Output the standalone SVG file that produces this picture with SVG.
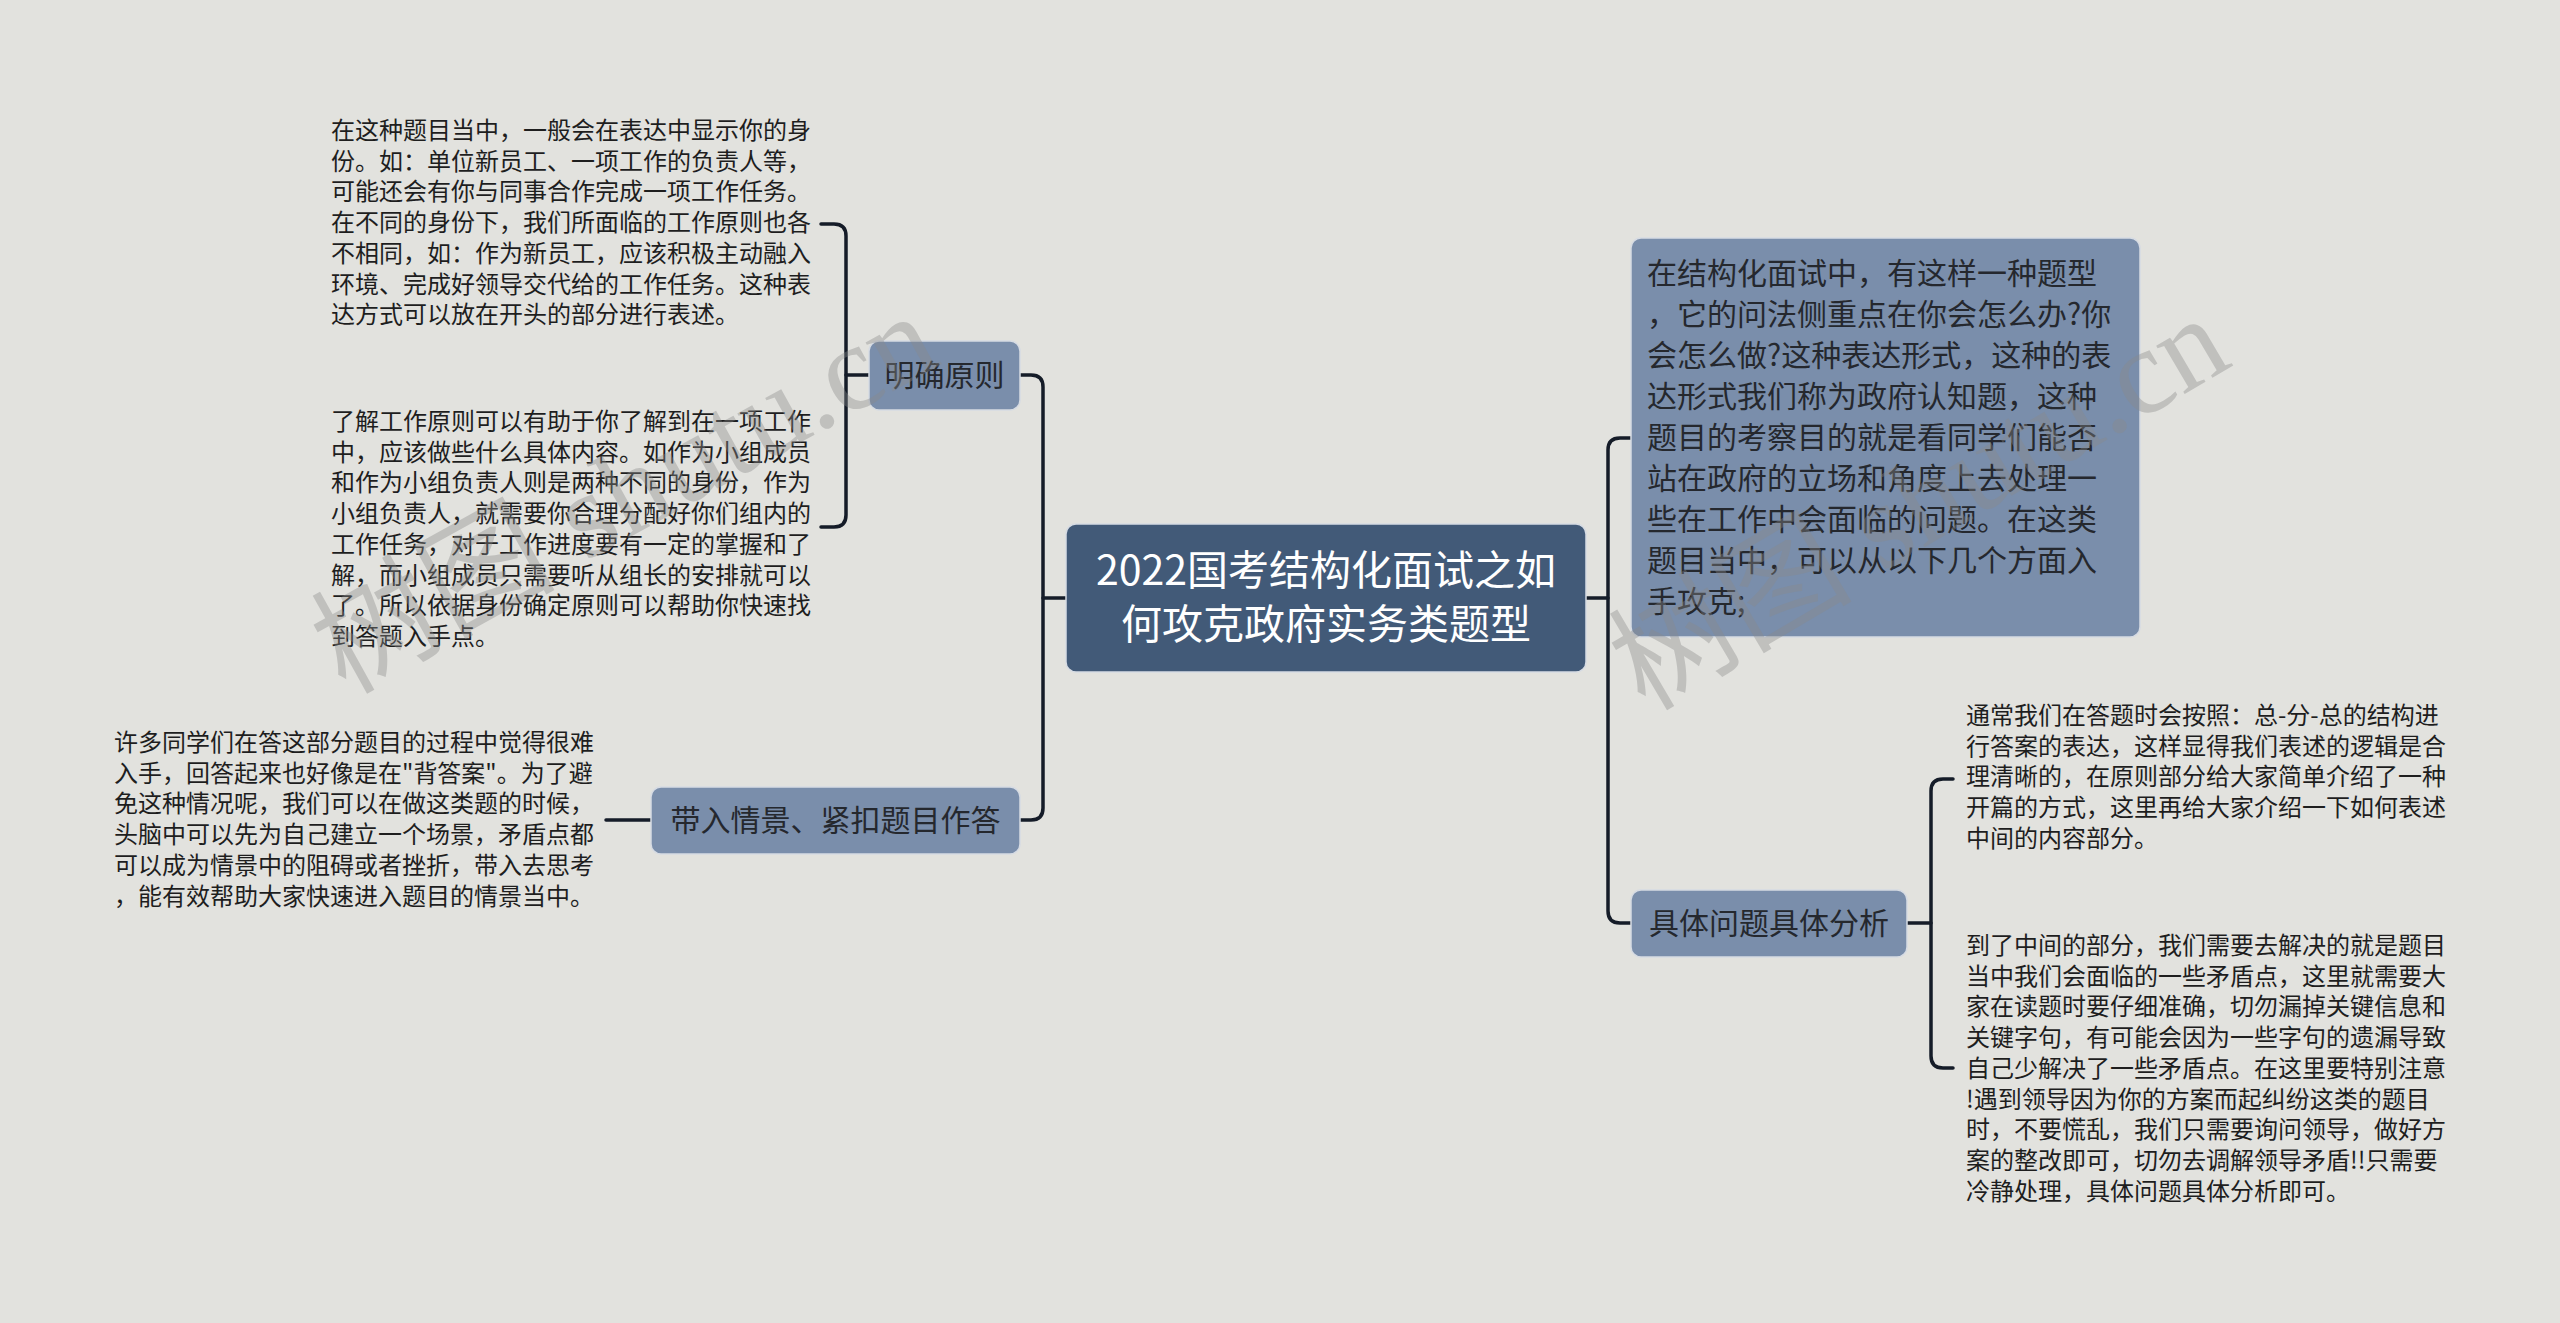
<svg xmlns="http://www.w3.org/2000/svg" width="2560" height="1323" viewBox="0 0 2560 1323">
<style>
.bg{fill:#e2e2de}
.conn{fill:none;stroke:#151c28;stroke-width:3.5;stroke-linecap:round}
.root{fill:#425a78;stroke:#d6dbe3;stroke-width:1.5}
.sub{fill:#7a8eab;stroke:#d6dbe3;stroke-width:1.5}
.t{font-family:"Noto Sans CJK SC","Noto Sans",sans-serif}
.rt{font-size:41px;fill:#ffffff;text-anchor:middle}
.st{font-size:30px;fill:#25282e;text-anchor:middle}
.bt{font-size:30px;fill:#25282e}
.lt{font-size:24px;fill:#1e1e1e}
.wm{font-family:"Liberation Serif","Noto Sans CJK SC",serif;fill:#8a8a8a;opacity:0.38}
</style>
<rect class="bg" x="0" y="0" width="2560" height="1323"/>

<g id="connectors">
  <path class="conn" d="M1066,598 H1043"/>
  <path class="conn" d="M869,375 H1031 Q1043,375 1043,387 V808 Q1043,820 1031,820 H1020"/>
  <path class="conn" d="M869,375 H846"/>
  <path class="conn" d="M821,224 H834 Q846,224 846,236 V515 Q846,527 834,527 H821"/>
  <path class="conn" d="M651,820 H606"/>
  <path class="conn" d="M1586,598 H1608"/>
  <path class="conn" d="M1631,438 H1620 Q1608,438 1608,450 V911 Q1608,923 1620,923 H1631"/>
  <path class="conn" d="M1907,923 H1931"/>
  <path class="conn" d="M1953,779 H1943 Q1931,779 1931,791 V1056 Q1931,1068 1943,1068 H1953"/>
</g>

<g id="root">
  <rect class="root" x="1066" y="524" width="520" height="148" rx="10"/>
  <text class="t rt" x="1326" y="585">2022国考结构化面试之如</text>
  <text class="t rt" x="1326" y="639">何攻克政府实务类题型</text>
</g>

<g id="node-mingque">
  <rect class="sub" x="869" y="341" width="151" height="69" rx="10"/>
  <text class="t st" x="944.5" y="386">明确原则</text>
</g>

<g id="node-mingque-text1">
  <text class="t lt" x="331" y="139">
    <tspan x="331">在这种题目当中，一般会在表达中显示你的身</tspan>
    <tspan x="331" dy="30.7">份。如：单位新员工、一项工作的负责人等，</tspan>
    <tspan x="331" dy="30.7">可能还会有你与同事合作完成一项工作任务。</tspan>
    <tspan x="331" dy="30.7">在不同的身份下，我们所面临的工作原则也各</tspan>
    <tspan x="331" dy="30.7">不相同，如：作为新员工，应该积极主动融入</tspan>
    <tspan x="331" dy="30.7">环境、完成好领导交代给的工作任务。这种表</tspan>
    <tspan x="331" dy="30.7">达方式可以放在开头的部分进行表述。</tspan>
  </text>
</g>

<g id="node-mingque-text2">
  <text class="t lt" x="331" y="430">
    <tspan x="331">了解工作原则可以有助于你了解到在一项工作</tspan>
    <tspan x="331" dy="30.7">中，应该做些什么具体内容。如作为小组成员</tspan>
    <tspan x="331" dy="30.7">和作为小组负责人则是两种不同的身份，作为</tspan>
    <tspan x="331" dy="30.7">小组负责人，就需要你合理分配好你们组内的</tspan>
    <tspan x="331" dy="30.7">工作任务，对于工作进度要有一定的掌握和了</tspan>
    <tspan x="331" dy="30.7">解，而小组成员只需要听从组长的安排就可以</tspan>
    <tspan x="331" dy="30.7">了。所以依据身份确定原则可以帮助你快速找</tspan>
    <tspan x="331" dy="30.7">到答题入手点。</tspan>
  </text>
</g>

<g id="node-dairu">
  <rect class="sub" x="651" y="787" width="369" height="67" rx="10"/>
  <text class="t st" x="835.5" y="831">带入情景、紧扣题目作答</text>
</g>

<g id="node-dairu-text">
  <text class="t lt" x="114" y="751">
    <tspan x="114">许多同学们在答这部分题目的过程中觉得很难</tspan>
    <tspan x="114" dy="30.7">入手，回答起来也好像是在"背答案"。为了避</tspan>
    <tspan x="114" dy="30.7">免这种情况呢，我们可以在做这类题的时候，</tspan>
    <tspan x="114" dy="30.7">头脑中可以先为自己建立一个场景，矛盾点都</tspan>
    <tspan x="114" dy="30.7">可以成为情景中的阻碍或者挫折，带入去思考</tspan>
    <tspan x="114" dy="30.7">，能有效帮助大家快速进入题目的情景当中。</tspan>
  </text>
</g>

<g id="node-intro">
  <rect class="sub" x="1631" y="238" width="509" height="399" rx="10"/>
  <text class="t bt" x="1647" y="283.5">
    <tspan x="1647">在结构化面试中，有这样一种题型</tspan>
    <tspan x="1647" dy="41">，它的问法侧重点在你会怎么办?你</tspan>
    <tspan x="1647" dy="41">会怎么做?这种表达形式，这种的表</tspan>
    <tspan x="1647" dy="41">达形式我们称为政府认知题，这种</tspan>
    <tspan x="1647" dy="41">题目的考察目的就是看同学们能否</tspan>
    <tspan x="1647" dy="41">站在政府的立场和角度上去处理一</tspan>
    <tspan x="1647" dy="41">些在工作中会面临的问题。在这类</tspan>
    <tspan x="1647" dy="41">题目当中，可以从以下几个方面入</tspan>
    <tspan x="1647" dy="41">手攻克;</tspan>
  </text>
</g>

<g id="node-juti">
  <rect class="sub" x="1631" y="890" width="276" height="67" rx="10"/>
  <text class="t st" x="1769" y="934">具体问题具体分析</text>
</g>

<g id="node-juti-text1">
  <text class="t lt" x="1966" y="724">
    <tspan x="1966">通常我们在答题时会按照：总-分-总的结构进</tspan>
    <tspan x="1966" dy="30.7">行答案的表达，这样显得我们表述的逻辑是合</tspan>
    <tspan x="1966" dy="30.7">理清晰的，在原则部分给大家简单介绍了一种</tspan>
    <tspan x="1966" dy="30.7">开篇的方式，这里再给大家介绍一下如何表述</tspan>
    <tspan x="1966" dy="30.7">中间的内容部分。</tspan>
  </text>
</g>

<g id="node-juti-text2">
  <text class="t lt" x="1966" y="954">
    <tspan x="1966">到了中间的部分，我们需要去解决的就是题目</tspan>
    <tspan x="1966" dy="30.7">当中我们会面临的一些矛盾点，这里就需要大</tspan>
    <tspan x="1966" dy="30.7">家在读题时要仔细准确，切勿漏掉关键信息和</tspan>
    <tspan x="1966" dy="30.7">关键字句，有可能会因为一些字句的遗漏导致</tspan>
    <tspan x="1966" dy="30.7">自己少解决了一些矛盾点。在这里要特别注意</tspan>
    <tspan x="1966" dy="30.7">!遇到领导因为你的方案而起纠纷这类的题目</tspan>
    <tspan x="1966" dy="30.7">时，不要慌乱，我们只需要询问领导，做好方</tspan>
    <tspan x="1966" dy="30.7">案的整改即可，切勿去调解领导矛盾!!只需要</tspan>
    <tspan x="1966" dy="30.7">冷静处理，具体问题具体分析即可。</tspan>
  </text>
</g>

<g id="watermark">
  <text class="wm" font-size="122" transform="translate(345,695) rotate(-29)">树图 shutu.cn</text>
  <text class="wm" font-size="122" transform="translate(1645,712) rotate(-30.5)">树图 shutu.cn</text>
</g>
</svg>
